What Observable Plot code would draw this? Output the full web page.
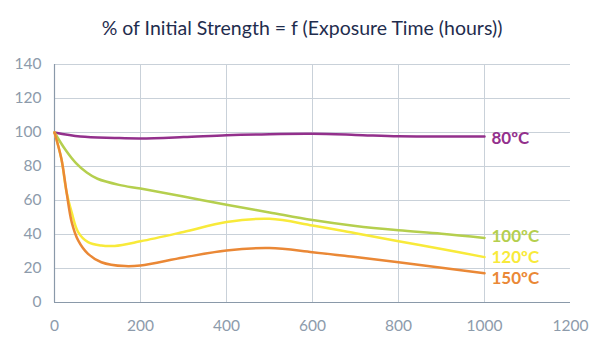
<!DOCTYPE html>
<html>
<head>
<meta charset="utf-8">
<script src="https://cdn.jsdelivr.net/npm/d3@7"></script>
<script src="https://cdn.jsdelivr.net/npm/@observablehq/plot@0.6"></script>
<style>
  body { margin: 0; background: #fff; }
  #title { height: 50px; line-height: 55px; text-align: center; padding-right: 10px; font-family: Lato, sans-serif; font-size: 19.5px; color: #1f2d4e; }
</style>
</head>
<body>
<div id="title">% of Initial Strength = f (Exposure Time (hours))</div>
<div id="chart"></div>
<script>
const title = "% of Initial Strength = f (Exposure Time (hours))";
const xTicks = [0, 200, 400, 600, 800, 1000, 1200];
const yTicks = [0, 20, 40, 60, 80, 100, 120, 140];

const labels = ["80ºC", "100ºC", "120ºC", "150ºC"];
const colors = ["#93308c", "#b5cf4e", "#f8ea3a", "#ea8836"];

const hours80 = [0, 60, 140, 200, 300, 400, 500, 600, 700, 800, 900, 1000];
const strength80 = [100, 97.6, 96.8, 96.5, 97.3, 98.4, 99, 99.2, 98.6, 97.8, 97.7, 97.6];

const hours100 = [0, 25, 50, 75, 100, 150, 200, 300, 400, 500, 600, 700, 800, 900, 1000];
const strength100 = [100, 90, 82, 76.5, 72.8, 69.2, 67, 62.3, 57.5, 53, 48.5, 45, 42.5, 40.5, 38];

const hours120 = [0, 16, 28, 40, 55, 78, 109, 140, 200, 300, 400, 500, 600, 700, 800, 900, 1000];
const strength120 = [100, 84.5, 65, 53, 41.4, 35.5, 33.5, 33.3, 36, 41.5, 47.3, 49.2, 45.3, 40.7, 36, 31.5, 26.7];

const hours150 = [0, 16, 28, 40, 55, 78, 109, 164, 200, 300, 400, 500, 600, 700, 800, 900, 1000];
const strength150 = [100, 84.5, 65, 47.3, 36.5, 28.6, 23.7, 21.4, 21.8, 26.5, 30.6, 32, 29.6, 26.7, 23.7, 20.5, 17.2];

const hours = [hours80, hours100, hours120, hours150];
const strengths = [strength80, strength100, strength120, strength150];
const labelShift = [2, -1, 0.5, 5];

const rows = [];
labels.forEach((s, i) => hours[i].forEach((h, j) => rows.push({series: s, hours: h, strength: strengths[i][j]})));
const ends = labels.map((s, i) => ({series: s, hours: hours[i][hours[i].length - 1], strength: strengths[i][strengths[i].length - 1], shift: labelShift[i]}));

const chart = Plot.plot({
  width: 614,
  height: 300,
  marginLeft: 54,
  marginRight: 44,
  marginTop: 14,
  marginBottom: 48,
  style: {fontFamily: "Lato, sans-serif", fontSize: "15px", color: "#8d9bab", background: "#fff"},
  x: {domain: [0, 1200], label: null},
  y: {domain: [0, 140], label: null},
  color: {domain: labels, range: colors},
  marks: [
    Plot.gridY(yTicks, {stroke: "#c9d1d9", strokeOpacity: 1, strokeWidth: 1}),
    Plot.gridX(xTicks.filter(d => d > 0 && d < 1200), {stroke: "#c9d1d9", strokeOpacity: 1, strokeWidth: 1}),
    Plot.ruleX([0], {stroke: "#8a99a9", strokeWidth: 1.2}),
    Plot.ruleY([0], {stroke: "#8a99a9", strokeWidth: 1.2}),
    Plot.axisX(xTicks, {tickSize: 0, tickPadding: 17, fontSize: 15.5, fill: "#8d9bab", tickFormat: d => String(d)}),
    Plot.axisY(yTicks, {tickSize: 0, tickPadding: 13, fontSize: 15.5, fill: "#8d9bab", tickFormat: d => String(d)}),
    Plot.line(rows, {x: "hours", y: "strength", z: "series", stroke: "series", strokeWidth: 2.5, curve: "catmull-rom"}),
    ...ends.map(e => Plot.text([e], {x: "hours", y: "strength", text: "series", fill: "series", textAnchor: "start", dx: 7, dy: e.shift, fontSize: 17, fontWeight: "bold"}))
  ]
});
document.getElementById("chart").appendChild(chart);
</script>
</body>
</html>
